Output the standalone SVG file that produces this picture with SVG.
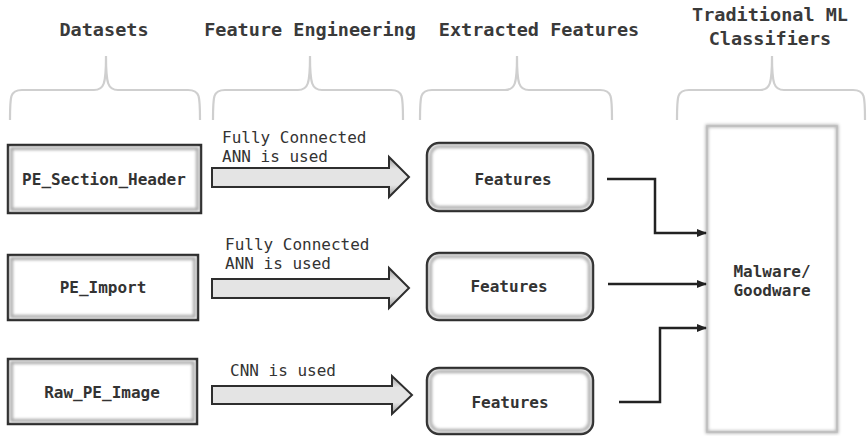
<svg xmlns="http://www.w3.org/2000/svg" width="867" height="436" viewBox="0 0 867 436">
<style>
.hdr{font-family:"DejaVu Sans Mono","Liberation Mono",monospace;font-weight:bold;font-size:18.5px;fill:#3a3a3a;text-anchor:middle}
.lbl{font-family:"DejaVu Sans Mono","Liberation Mono",monospace;font-size:16px;fill:#333}
.nt{font-family:"DejaVu Sans Mono","Liberation Mono",monospace;font-weight:bold;font-size:16px;fill:#333;text-anchor:middle}
.brace{fill:none;stroke:#cfcfcf;stroke-width:2.2}
.box{fill:#fff;stroke:#2e2e2e;stroke-width:2.5}
.inner{fill:none;stroke:#a8a8a8;stroke-width:3;filter:url(#blur)}
.blk{fill:url(#grad);stroke:#2e2e2e;stroke-width:2;stroke-linejoin:miter}
.conn{fill:none;stroke:#222;stroke-width:2.5;marker-end:url(#ah)}
</style>
<defs>
<filter id="blur" x="-5%" y="-5%" width="110%" height="110%"><feGaussianBlur stdDeviation="1.5"/></filter>
<linearGradient id="grad" x1="0" y1="0" x2="0" y2="1">
<stop offset="0" stop-color="#9a9a9a"/>
<stop offset="0.3" stop-color="#e4e4e4"/>
<stop offset="0.7" stop-color="#e4e4e4"/>
<stop offset="1" stop-color="#9a9a9a"/>
</linearGradient>
<marker id="ah" markerWidth="10" markerHeight="8" refX="9" refY="4" orient="auto" markerUnits="userSpaceOnUse">
<path d="M0,0 L10,4 L0,8 Z" fill="#222"/>
</marker>
</defs>

<g id="headers">
<text class="hdr" x="104" y="36">Datasets</text>
<text class="hdr" x="310" y="36">Feature Engineering</text>
<text class="hdr" x="539" y="36">Extracted Features</text>
<text class="hdr" x="770" y="21">Traditional ML</text>
<text class="hdr" x="770" y="45">Classifiers</text>
</g>

<g id="braces">
<path class="brace" d="M10,120 C10,96 10,90 22,90 L94,90 C104,90 106,84 106,56 C106,84 108,90 118,90 L188,90 C200,90 200,96 200,120"/>
<path class="brace" d="M213,120 C213,96 213,90 225,90 L298,90 C308,90 310,84 310,56 C310,84 312,90 322,90 L391,90 C403,90 403,96 403,120"/>
<path class="brace" d="M420,120 C420,96 420,90 432,90 L505,90 C515,90 517,84 517,56 C517,84 519,90 529,90 L600,90 C612,90 612,96 612,120"/>
<path class="brace" d="M677,120 C677,96 677,90 689,90 L760,90 C770,90 772,84 772,56 C772,84 774,90 784,90 L853,90 C865,90 865,96 865,120"/>
</g>

<g id="ds1">
<rect class="box" x="8" y="145" width="193" height="68"/>
<rect class="inner" x="11.5" y="148.5" width="186" height="61"/>
<text class="nt" x="104" y="185">PE_Section_Header</text>
</g>
<g id="ds2">
<rect class="box" x="8" y="255" width="190" height="65"/>
<rect class="inner" x="11.5" y="258.5" width="183" height="58"/>
<text class="nt" x="103" y="293">PE_Import</text>
</g>
<g id="ds3">
<rect class="box" x="8" y="359" width="189" height="65"/>
<rect class="inner" x="11.5" y="362.5" width="182" height="58"/>
<text class="nt" x="102" y="398">Raw_PE_Image</text>
</g>

<g id="fe1">
<path class="blk" d="M212,168 L389,168 L389,157 L409,177 L389,197 L389,187 L212,187 Z"/>
<text class="lbl" x="222" y="143">Fully Connected</text>
<text class="lbl" x="222" y="162">ANN is used</text>
</g>
<g id="fe2">
<path class="blk" d="M212,279 L389,279 L389,268 L409,288 L389,308 L389,298 L212,298 Z"/>
<text class="lbl" x="225" y="250">Fully Connected</text>
<text class="lbl" x="225" y="269">ANN is used</text>
</g>
<g id="fe3">
<path class="blk" d="M212,386 L392,386 L392,376 L412,395 L392,414 L392,404 L212,404 Z"/>
<text class="lbl" x="230" y="376">CNN is used</text>
</g>

<g id="f1">
<rect class="box" x="427" y="143" width="166" height="68" rx="12"/>
<rect class="inner" x="430.5" y="146.5" width="159" height="61" rx="9"/>
<text class="nt" x="513" y="185">Features</text>
</g>
<g id="f2">
<rect class="box" x="427" y="253" width="166" height="67" rx="12"/>
<rect class="inner" x="430.5" y="256.5" width="159" height="60" rx="9"/>
<text class="nt" x="509" y="292">Features</text>
</g>
<g id="f3">
<rect class="box" x="427" y="368" width="166" height="66" rx="12"/>
<rect class="inner" x="430.5" y="371.5" width="159" height="59" rx="9"/>
<text class="nt" x="510" y="408">Features</text>
</g>

<g id="clf">
<rect x="707" y="126" width="130" height="306" fill="#fff" stroke="#b0b0b0" stroke-width="3" filter="url(#blur)"/>
<rect x="707" y="126" width="130" height="306" fill="none" stroke="#bdbdbd" stroke-width="1.5"/>
<text class="nt" x="772" y="277">Malware/</text>
<text class="nt" x="772" y="296">Goodware</text>
</g>

<g id="connectors">
<path class="conn" d="M607,179 L655,179 L655,233 L706,233"/>
<path class="conn" d="M608,284 L706,284"/>
<path class="conn" d="M619,402 L660,402 L660,328 L706,328"/>
</g>
</svg>
